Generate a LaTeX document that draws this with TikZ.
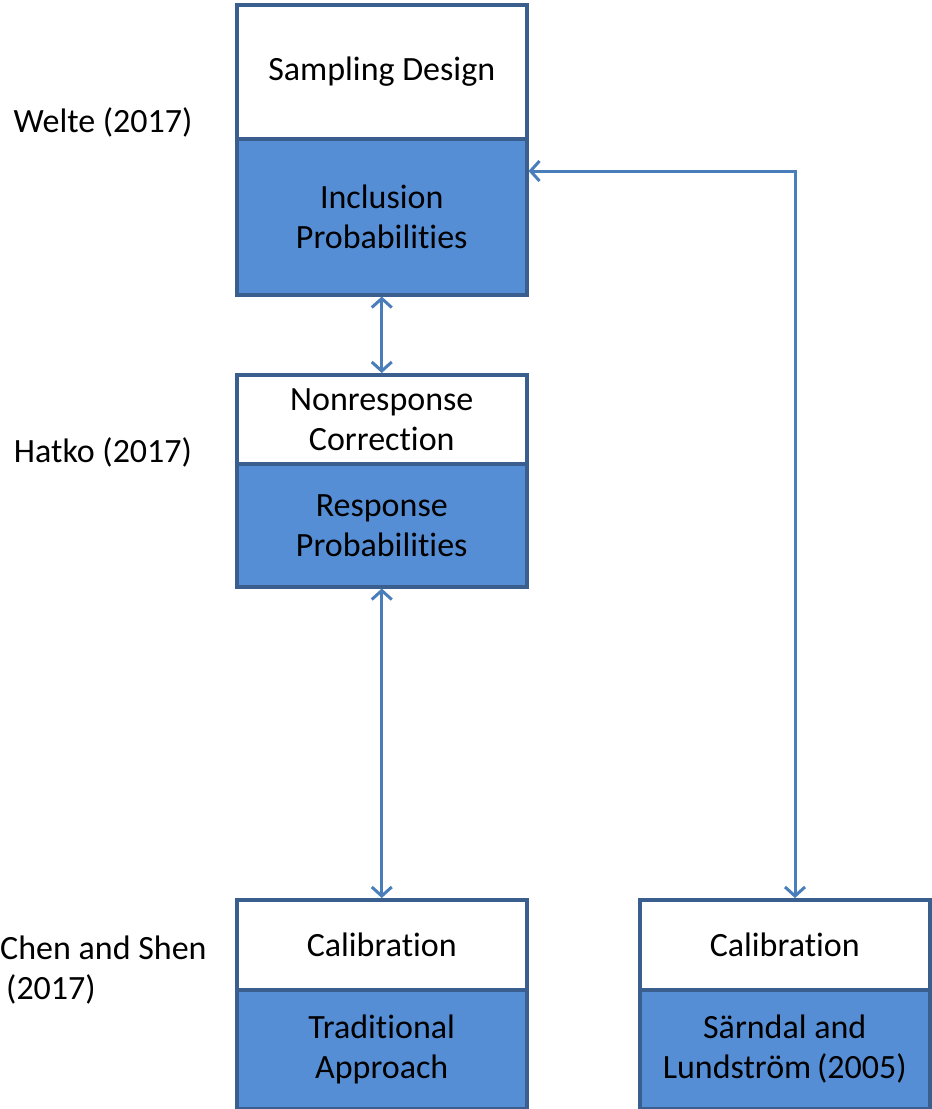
\documentclass[tikz,border=0pt]{standalone}
\usepackage{fontspec}
\setmainfont{Carlito}[Ligatures={NoCommon}]
\usetikzlibrary{arrows.meta}
\definecolor{bord}{HTML}{3A5F8F}
\definecolor{boxfill}{HTML}{558ED5}
\definecolor{arr}{HTML}{4A7EBB}
\begin{document}
\begin{tikzpicture}[x=1pt,y=-1pt,
  every node/.style={font=\fontsize{34}{40}\selectfont, inner sep=0pt, align=center},
  wbox/.style={draw=bord, line width=3.5pt, fill=white, minimum width=290pt, anchor=north west},
  bbox/.style={draw=bord, line width=3.5pt, fill=boxfill, minimum width=290pt, anchor=north west},
  conn/.style={draw=arr, line width=3pt, {Straight Barb[length=9pt,width=20pt,line width=3pt]}-{Straight Barb[length=9pt,width=20pt,line width=3pt]}},
  lbl/.style={anchor=center}]
\useasboundingbox (0,0) rectangle (932,1109);
% box 1
\node[bbox, minimum height=156pt] (b1b) at (235,137) {Inclusion\\Probabilities};
\node[wbox, minimum height=134pt] (b1t) at (235,3) {Sampling Design};
% box 2
\node[bbox, minimum height=123pt] (b2b) at (235,462) {Response\\Probabilities};
\node[wbox, minimum height=89pt] (b2t) at (235,373) {Nonresponse\\Correction};
% box 3
\node[bbox, minimum height=119pt] (b3b) at (235,988) {Traditional\\Approach};
\node[wbox, minimum height=90pt] (b3t) at (235,898) {Calibration};
% box 4
\node[bbox, minimum height=119pt] (b4b) at (638,988) {Särndal and\\Lundström\,(2005)};
\node[wbox, minimum height=90pt] (b4t) at (638,898) {Calibration};
% labels
\node[lbl] (l1) at (103,122) {Welte (2017)};
\node[lbl] (l2) at (103,452) {Hatko (2017)};
\node[anchor=west, align=left] (l3) at (0,970) {Chen and Shen\\\hspace*{6pt}(2017)};
% connectors
\coordinate (c1) at (795,171);
\path[conn] (b1b.south) -- (b2t.north);
\path[conn] (b2b.south) -- (b3t.north);
\path[conn] (b1b.east |- c1) -- (c1) -- (c1 |- b4t.north);
\end{tikzpicture}
\end{document}
